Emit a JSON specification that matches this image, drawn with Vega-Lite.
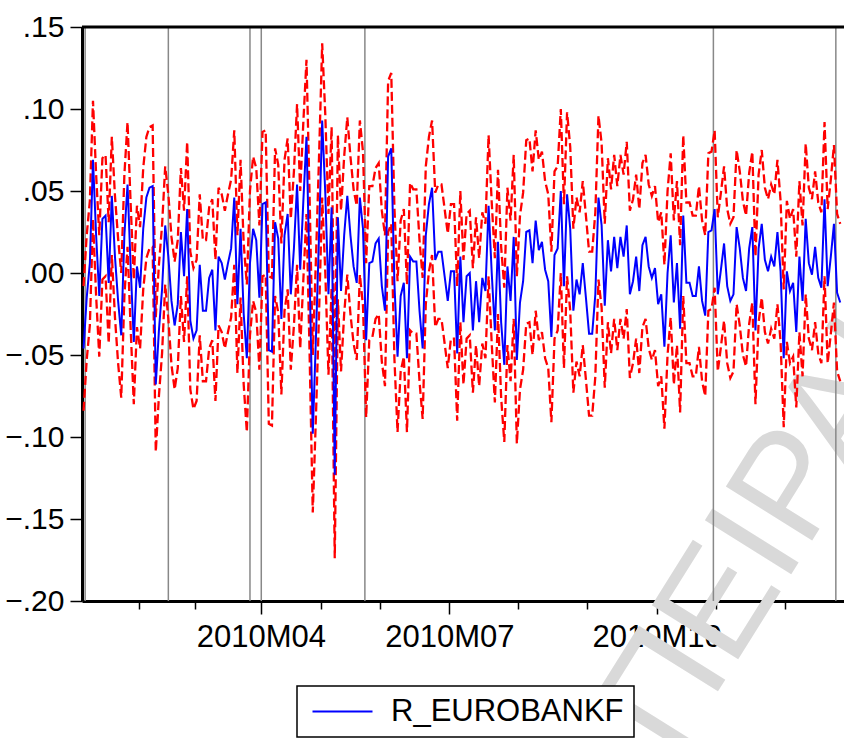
{
  "$schema": "https://vega.github.io/schema/vega-lite/v6.json",
  "width": 762,
  "height": 574,
  "autosize": {"type": "none"},
  "padding": {"left": 82, "top": 27, "right": 0, "bottom": 137},
  "config": {
    "view": {"stroke": null},
    "font": "Liberation Sans",
    "legend": {"strokeWidth": 1.5}
  },
  "datasets": {
    "returns": [
      {"t":0,"r":-0.046,"hi":-0.008,"lo":-0.084},{"t":1,"r":-0.015,"hi":0.023,"lo":-0.053},{"t":2,"r":0.006,"hi":0.044,"lo":-0.032},{"t":3,"r":0.069,"hi":0.105,"lo":0.033},{"t":4,"r":0.023,"hi":0.060,"lo":-0.014},{"t":5,"r":-0.014,"hi":0.023,"lo":-0.051},{"t":6,"r":0.033,"hi":0.070,"lo":-0.004},{"t":7,"r":0.035,"hi":0.072,"lo":-0.002},{"t":8,"r":-0.006,"hi":0.031,"lo":-0.043},{"t":9,"r":0.047,"hi":0.083,"lo":0.011},
      {"t":10,"r":0.010,"hi":0.047,"lo":-0.027},{"t":11,"r":-0.017,"hi":0.021,"lo":-0.055},{"t":12,"r":-0.038,"hi":0.000,"lo":-0.076},{"t":13,"r":0.023,"hi":0.060,"lo":-0.014},{"t":14,"r":0.054,"hi":0.092,"lo":0.016},{"t":15,"r":0.004,"hi":0.042,"lo":-0.034},{"t":16,"r":-0.042,"hi":-0.004,"lo":-0.080},{"t":17,"r":0.004,"hi":0.041,"lo":-0.033},{"t":18,"r":-0.009,"hi":0.028,"lo":-0.046},{"t":19,"r":0.027,"hi":0.064,"lo":-0.010},
      {"t":20,"r":0.046,"hi":0.083,"lo":0.009},{"t":21,"r":0.052,"hi":0.089,"lo":0.015},{"t":22,"r":0.053,"hi":0.090,"lo":0.016},{"t":23,"r":-0.068,"hi":-0.027,"lo":-0.109},{"t":24,"r":-0.035,"hi":0.005,"lo":-0.075},{"t":25,"r":-0.010,"hi":0.029,"lo":-0.049},{"t":26,"r":0.029,"hi":0.065,"lo":-0.007},{"t":27,"r":0.010,"hi":0.048,"lo":-0.028},{"t":28,"r":-0.017,"hi":0.022,"lo":-0.056},{"t":29,"r":-0.032,"hi":0.007,"lo":-0.071},
      {"t":30,"r":-0.019,"hi":0.020,"lo":-0.058},{"t":31,"r":0.025,"hi":0.064,"lo":-0.014},{"t":32,"r":-0.002,"hi":0.038,"lo":-0.042},{"t":33,"r":0.039,"hi":0.080,"lo":-0.002},{"t":34,"r":-0.029,"hi":0.013,"lo":-0.071},{"t":35,"r":-0.040,"hi":0.003,"lo":-0.083},{"t":36,"r":-0.035,"hi":0.008,"lo":-0.078},{"t":37,"r":0.005,"hi":0.048,"lo":-0.038},{"t":38,"r":-0.023,"hi":0.020,"lo":-0.066},{"t":39,"r":-0.023,"hi":0.020,"lo":-0.066},
      {"t":40,"r":-0.003,"hi":0.040,"lo":-0.046},{"t":41,"r":0.002,"hi":0.045,"lo":-0.041},{"t":42,"r":-0.035,"hi":0.008,"lo":-0.078},{"t":43,"r":0.010,"hi":0.052,"lo":-0.032},{"t":44,"r":0.006,"hi":0.048,"lo":-0.036},{"t":45,"r":-0.004,"hi":0.038,"lo":-0.046},{"t":46,"r":0.006,"hi":0.048,"lo":-0.036},{"t":47,"r":0.015,"hi":0.057,"lo":-0.027},{"t":48,"r":0.046,"hi":0.087,"lo":0.005},{"t":49,"r":-0.019,"hi":0.023,"lo":-0.061},
      {"t":50,"r":0.027,"hi":0.069,"lo":-0.015},{"t":51,"r":-0.025,"hi":0.018,"lo":-0.068},{"t":52,"r":-0.052,"hi":-0.007,"lo":-0.097},{"t":53,"r":0.006,"hi":0.050,"lo":-0.038},{"t":54,"r":0.027,"hi":0.071,"lo":-0.017},{"t":55,"r":0.020,"hi":0.064,"lo":-0.024},{"t":56,"r":-0.015,"hi":0.029,"lo":-0.059},{"t":57,"r":0.042,"hi":0.086,"lo":-0.002},{"t":58,"r":0.043,"hi":0.087,"lo":-0.001},{"t":59,"r":-0.047,"hi":-0.002,"lo":-0.092},
      {"t":60,"r":-0.048,"hi":-0.003,"lo":-0.093},{"t":61,"r":0.031,"hi":0.076,"lo":-0.014},{"t":62,"r":0.021,"hi":0.066,"lo":-0.024},{"t":63,"r":-0.028,"hi":0.018,"lo":-0.074},{"t":64,"r":0.023,"hi":0.069,"lo":-0.023},{"t":65,"r":0.036,"hi":0.082,"lo":-0.010},{"t":66,"r":-0.013,"hi":0.033,"lo":-0.059},{"t":67,"r":0.015,"hi":0.062,"lo":-0.032},{"t":68,"r":0.054,"hi":0.103,"lo":0.005},{"t":69,"r":0.002,"hi":0.050,"lo":-0.046},
      {"t":70,"r":0.044,"hi":0.092,"lo":-0.004},{"t":71,"r":0.083,"hi":0.130,"lo":0.036},{"t":72,"r":-0.002,"hi":0.046,"lo":-0.050},{"t":73,"r":-0.098,"hi":-0.050,"lo":-0.146},{"t":74,"r":-0.040,"hi":0.008,"lo":-0.088},{"t":75,"r":0.023,"hi":0.071,"lo":-0.025},{"t":76,"r":0.093,"hi":0.140,"lo":0.046},{"t":77,"r":0.048,"hi":0.096,"lo":0.000},{"t":78,"r":-0.013,"hi":0.036,"lo":-0.062},{"t":79,"r":0.040,"hi":0.089,"lo":-0.009},
      {"t":80,"r":-0.123,"hi":-0.072,"lo":-0.174},{"t":81,"r":0.034,"hi":0.084,"lo":-0.016},{"t":82,"r":-0.011,"hi":0.038,"lo":-0.060},{"t":83,"r":0.023,"hi":0.071,"lo":-0.025},{"t":84,"r":0.047,"hi":0.095,"lo":-0.001},{"t":85,"r":0.023,"hi":0.071,"lo":-0.025},{"t":86,"r":0.004,"hi":0.051,"lo":-0.043},{"t":87,"r":-0.006,"hi":0.041,"lo":-0.053},{"t":88,"r":0.046,"hi":0.093,"lo":-0.001},{"t":89,"r":0.027,"hi":0.074,"lo":-0.020},
      {"t":90,"r":-0.041,"hi":0.006,"lo":-0.088},{"t":91,"r":0.006,"hi":0.053,"lo":-0.041},{"t":92,"r":0.007,"hi":0.053,"lo":-0.039},{"t":93,"r":0.018,"hi":0.064,"lo":-0.028},{"t":94,"r":0.021,"hi":0.067,"lo":-0.025},{"t":95,"r":-0.008,"hi":0.038,"lo":-0.054},{"t":96,"r":-0.023,"hi":0.023,"lo":-0.069},{"t":97,"r":0.071,"hi":0.117,"lo":0.025},{"t":98,"r":0.076,"hi":0.122,"lo":0.030},{"t":99,"r":-0.006,"hi":0.040,"lo":-0.052},
      {"t":100,"r":-0.051,"hi":-0.005,"lo":-0.097},{"t":101,"r":-0.014,"hi":0.032,"lo":-0.060},{"t":102,"r":-0.006,"hi":0.039,"lo":-0.051},{"t":103,"r":-0.052,"hi":-0.007,"lo":-0.097},{"t":104,"r":0.010,"hi":0.055,"lo":-0.035},{"t":105,"r":0.007,"hi":0.051,"lo":-0.037},{"t":106,"r":0.007,"hi":0.051,"lo":-0.037},{"t":107,"r":-0.023,"hi":0.020,"lo":-0.066},{"t":108,"r":-0.046,"hi":-0.003,"lo":-0.089},{"t":109,"r":0.023,"hi":0.065,"lo":-0.019},
      {"t":110,"r":0.042,"hi":0.083,"lo":0.001},{"t":111,"r":0.052,"hi":0.093,"lo":0.011},{"t":112,"r":0.008,"hi":0.049,"lo":-0.033},{"t":113,"r":0.013,"hi":0.054,"lo":-0.028},{"t":114,"r":0.013,"hi":0.054,"lo":-0.028},{"t":115,"r":-0.002,"hi":0.039,"lo":-0.043},{"t":116,"r":-0.017,"hi":0.024,"lo":-0.058},{"t":117,"r":0.001,"hi":0.042,"lo":-0.040},{"t":118,"r":0.001,"hi":0.042,"lo":-0.040},{"t":119,"r":-0.049,"hi":-0.008,"lo":-0.090},
      {"t":120,"r":0.010,"hi":0.050,"lo":-0.030},{"t":121,"r":-0.030,"hi":0.008,"lo":-0.068},{"t":122,"r":-0.002,"hi":0.036,"lo":-0.040},{"t":123,"r":0.000,"hi":0.038,"lo":-0.038},{"t":124,"r":-0.035,"hi":0.003,"lo":-0.073},{"t":125,"r":-0.005,"hi":0.034,"lo":-0.044},{"t":126,"r":-0.030,"hi":0.009,"lo":-0.069},{"t":127,"r":-0.003,"hi":0.037,"lo":-0.043},{"t":128,"r":-0.011,"hi":0.030,"lo":-0.052},{"t":129,"r":0.041,"hi":0.084,"lo":-0.002},
      {"t":130,"r":0.000,"hi":0.043,"lo":-0.043},{"t":131,"r":-0.035,"hi":0.009,"lo":-0.079},{"t":132,"r":0.019,"hi":0.063,"lo":-0.025},{"t":133,"r":-0.030,"hi":0.016,"lo":-0.076},{"t":134,"r":-0.056,"hi":-0.009,"lo":-0.103},{"t":135,"r":0.004,"hi":0.052,"lo":-0.044},{"t":136,"r":-0.017,"hi":0.032,"lo":-0.066},{"t":137,"r":0.022,"hi":0.072,"lo":-0.028},{"t":138,"r":-0.053,"hi":-0.002,"lo":-0.104},{"t":139,"r":-0.018,"hi":0.035,"lo":-0.071},
      {"t":140,"r":-0.005,"hi":0.049,"lo":-0.059},{"t":141,"r":0.025,"hi":0.081,"lo":-0.031},{"t":142,"r":0.026,"hi":0.082,"lo":-0.030},{"t":143,"r":0.006,"hi":0.062,"lo":-0.050},{"t":144,"r":0.032,"hi":0.087,"lo":-0.023},{"t":145,"r":0.014,"hi":0.069,"lo":-0.041},{"t":146,"r":0.019,"hi":0.074,"lo":-0.036},{"t":147,"r":0.002,"hi":0.056,"lo":-0.052},{"t":148,"r":-0.005,"hi":0.048,"lo":-0.058},{"t":149,"r":-0.039,"hi":0.013,"lo":-0.091},
      {"t":150,"r":0.011,"hi":0.062,"lo":-0.040},{"t":151,"r":0.015,"hi":0.065,"lo":-0.035},{"t":152,"r":0.050,"hi":0.100,"lo":0.000},{"t":153,"r":-0.008,"hi":0.042,"lo":-0.058},{"t":154,"r":0.048,"hi":0.098,"lo":-0.002},{"t":155,"r":0.027,"hi":0.077,"lo":-0.023},{"t":156,"r":-0.023,"hi":0.027,"lo":-0.073},{"t":157,"r":-0.004,"hi":0.046,"lo":-0.054},{"t":158,"r":-0.013,"hi":0.037,"lo":-0.063},{"t":159,"r":0.006,"hi":0.056,"lo":-0.044},
      {"t":160,"r":-0.015,"hi":0.035,"lo":-0.065},{"t":161,"r":-0.037,"hi":0.013,"lo":-0.087},{"t":162,"r":-0.037,"hi":0.013,"lo":-0.087},{"t":163,"r":-0.013,"hi":0.037,"lo":-0.063},{"t":164,"r":0.046,"hi":0.096,"lo":-0.004},{"t":165,"r":0.029,"hi":0.079,"lo":-0.021},{"t":166,"r":-0.020,"hi":0.030,"lo":-0.070},{"t":167,"r":0.020,"hi":0.070,"lo":-0.030},{"t":168,"r":0.001,"hi":0.051,"lo":-0.049},{"t":169,"r":0.022,"hi":0.072,"lo":-0.028},
      {"t":170,"r":0.003,"hi":0.053,"lo":-0.047},{"t":171,"r":0.022,"hi":0.072,"lo":-0.028},{"t":172,"r":0.010,"hi":0.060,"lo":-0.040},{"t":173,"r":0.029,"hi":0.080,"lo":-0.022},{"t":174,"r":-0.013,"hi":0.038,"lo":-0.064},{"t":175,"r":-0.005,"hi":0.045,"lo":-0.055},{"t":176,"r":0.010,"hi":0.060,"lo":-0.040},{"t":177,"r":-0.011,"hi":0.039,"lo":-0.061},{"t":178,"r":0.017,"hi":0.067,"lo":-0.033},{"t":179,"r":0.022,"hi":0.072,"lo":-0.028},
      {"t":180,"r":0.004,"hi":0.054,"lo":-0.046},{"t":181,"r":-0.003,"hi":0.047,"lo":-0.053},{"t":182,"r":0.003,"hi":0.053,"lo":-0.047},{"t":183,"r":-0.019,"hi":0.031,"lo":-0.069},{"t":184,"r":-0.013,"hi":0.037,"lo":-0.063},{"t":185,"r":-0.045,"hi":0.005,"lo":-0.095},{"t":186,"r":0.000,"hi":0.050,"lo":-0.050},{"t":187,"r":0.023,"hi":0.073,"lo":-0.027},{"t":188,"r":-0.018,"hi":0.032,"lo":-0.068},{"t":189,"r":0.006,"hi":0.056,"lo":-0.044},
      {"t":190,"r":-0.034,"hi":0.017,"lo":-0.085},{"t":191,"r":0.035,"hi":0.084,"lo":-0.014},{"t":192,"r":-0.006,"hi":0.043,"lo":-0.055},{"t":193,"r":-0.006,"hi":0.043,"lo":-0.055},{"t":194,"r":-0.014,"hi":0.035,"lo":-0.063},{"t":195,"r":-0.014,"hi":0.035,"lo":-0.063},{"t":196,"r":0.004,"hi":0.053,"lo":-0.045},{"t":197,"r":-0.017,"hi":0.032,"lo":-0.066},{"t":198,"r":-0.026,"hi":0.023,"lo":-0.075},{"t":199,"r":0.025,"hi":0.073,"lo":-0.023},
      {"t":200,"r":0.026,"hi":0.074,"lo":-0.022},{"t":201,"r":0.039,"hi":0.087,"lo":-0.009},{"t":202,"r":-0.013,"hi":0.034,"lo":-0.060},{"t":203,"r":0.002,"hi":0.049,"lo":-0.045},{"t":204,"r":0.018,"hi":0.065,"lo":-0.029},{"t":205,"r":-0.008,"hi":0.039,"lo":-0.055},{"t":206,"r":-0.017,"hi":0.030,"lo":-0.064},{"t":207,"r":-0.013,"hi":0.034,"lo":-0.060},{"t":208,"r":0.028,"hi":0.075,"lo":-0.019},{"t":209,"r":0.015,"hi":0.062,"lo":-0.032},
      {"t":210,"r":-0.003,"hi":0.044,"lo":-0.050},{"t":211,"r":-0.011,"hi":0.035,"lo":-0.057},{"t":212,"r":0.015,"hi":0.061,"lo":-0.031},{"t":213,"r":0.028,"hi":0.074,"lo":-0.018},{"t":214,"r":-0.035,"hi":0.010,"lo":-0.080},{"t":215,"r":0.015,"hi":0.060,"lo":-0.030},{"t":216,"r":0.030,"hi":0.075,"lo":-0.015},{"t":217,"r":0.008,"hi":0.052,"lo":-0.036},{"t":218,"r":0.001,"hi":0.045,"lo":-0.043},{"t":219,"r":0.010,"hi":0.054,"lo":-0.034},
      {"t":220,"r":0.004,"hi":0.048,"lo":-0.040},{"t":221,"r":0.025,"hi":0.069,"lo":-0.019},{"t":222,"r":0.001,"hi":0.044,"lo":-0.042},{"t":223,"r":-0.052,"hi":-0.010,"lo":-0.094},{"t":224,"r":0.001,"hi":0.044,"lo":-0.042},{"t":225,"r":-0.011,"hi":0.033,"lo":-0.055},{"t":226,"r":-0.006,"hi":0.039,"lo":-0.051},{"t":227,"r":-0.036,"hi":0.010,"lo":-0.082},{"t":228,"r":0.010,"hi":0.056,"lo":-0.036},{"t":229,"r":-0.017,"hi":0.029,"lo":-0.063},
      {"t":230,"r":0.033,"hi":0.079,"lo":-0.013},{"t":231,"r":0.006,"hi":0.052,"lo":-0.040},{"t":232,"r":-0.001,"hi":0.045,"lo":-0.047},{"t":233,"r":0.016,"hi":0.062,"lo":-0.030},{"t":234,"r":-0.003,"hi":0.043,"lo":-0.049},{"t":235,"r":-0.009,"hi":0.037,"lo":-0.055},{"t":236,"r":0.045,"hi":0.092,"lo":-0.002},{"t":237,"r":-0.008,"hi":0.039,"lo":-0.055},{"t":238,"r":0.010,"hi":0.057,"lo":-0.037},{"t":239,"r":0.030,"hi":0.078,"lo":-0.018},
      {"t":240,"r":-0.012,"hi":0.036,"lo":-0.060},{"t":241,"r":-0.018,"hi":0.030,"lo":-0.066}
    ],
    "breaks": [{"t":0.5},{"t":27},{"t":53},{"t":56.6},{"t":89.6},{"t":200.6},{"t":239.6}]
  },
  "layer": [
    {
      "data": {"values": [{"label": "ΠΕΙΡΑΙΩΣ"}]},
      "mark": {"type": "text", "angle": 302, "fontSize": 148, "font": "Liberation Sans", "color": "#d9d9d9", "align": "left", "baseline": "alphabetic"},
      "encoding": {
        "x": {"datum": 188.4, "type": "quantitative"},
        "y": {"datum": -0.297, "type": "quantitative"},
        "text": {"field": "label"}
      }
    },
    {
      "data": {"name": "breaks"},
      "mark": {"type": "rule", "color": "#888888", "strokeWidth": 1.5},
      "encoding": {"x": {"field": "t", "type": "quantitative"}}
    },
    {
      "data": {"name": "returns"},
      "mark": {"type": "line", "color": "#ff0000", "strokeWidth": 2.3, "strokeDash": [9, 4]},
      "encoding": {
        "x": {"field": "t", "type": "quantitative"},
        "y": {"field": "hi", "type": "quantitative"}
      }
    },
    {
      "data": {"name": "returns"},
      "mark": {"type": "line", "color": "#ff0000", "strokeWidth": 2.3, "strokeDash": [9, 4]},
      "encoding": {
        "x": {"field": "t", "type": "quantitative"},
        "y": {"field": "lo", "type": "quantitative"}
      }
    },
    {
      "data": {"name": "returns"},
      "mark": {"type": "line", "strokeWidth": 2},
      "encoding": {
        "x": {
          "field": "t",
          "type": "quantitative",
          "scale": {"domain": [-0.5, 242.2], "nice": false, "zero": false},
          "axis": {
            "title": null,
            "grid": false,
            "values": [17.5, 35.5, 56.5, 75.5, 94.5, 116.5, 138.5, 160.5, 182.5, 201.5, 223.5],
            "labelExpr": "datum.value == 56.5 ? '2010M04' : datum.value == 116.5 ? '2010M07' : datum.value == 182.5 ? '2010M10' : ''",
            "domainColor": "#000000",
            "domainWidth": 3,
            "tickColor": "#000000",
            "tickWidth": 1.5,
            "tickSize": {"condition": {"test": "datum.value == 56.5 || datum.value == 116.5 || datum.value == 182.5", "value": 13}, "value": 8},
            "labelFont": "Liberation Sans",
            "labelFontSize": 31,
            "labelColor": "#000000",
            "labelPadding": 8,
            "labelFlush": false,
            "labelOverlap": false
          }
        },
        "y": {
          "field": "r",
          "type": "quantitative",
          "scale": {"domain": [-0.2, 0.15], "nice": false, "zero": false},
          "axis": {
            "title": null,
            "grid": false,
            "values": [-0.2, -0.15, -0.1, -0.05, 0, 0.05, 0.1, 0.15],
            "labelExpr": "replace(format(datum.value, '.2f'), '0.', '.')",
            "domainColor": "#000000",
            "domainWidth": 3,
            "tickColor": "#000000",
            "tickWidth": 1.5,
            "tickSize": 12,
            "labelFont": "Liberation Sans",
            "labelFontSize": 30,
            "labelColor": "#000000",
            "labelPadding": 6,
            "labelFlush": false,
            "labelOverlap": false
          }
        },
        "color": {
          "datum": "R_EUROBANKF",
          "type": "nominal",
          "scale": {"range": ["#0000ff"]},
          "legend": {
            "title": null,
            "orient": "none",
            "legendX": 215,
            "legendY": 659,
            "symbolType": "M-3,0H3",
            "symbolSize": 400,
            "symbolStrokeWidth": 1.8,
            "symbolOffset": 20,
            "labelOffset": 33,
            "labelFont": "Liberation Sans",
            "labelFontSize": 31,
            "labelColor": "#000000",
            "labelLimit": 500,
            "strokeColor": "#000000",
            "fillColor": "#ffffff",
            "padding": 10
          }
        }
      }
    },
    {
      "data": {"values": [{}]},
      "mark": {"type": "rule", "color": "#000000", "strokeWidth": 3},
      "encoding": {"y": {"datum": 0.15, "type": "quantitative"}}
    }
  ]
}
